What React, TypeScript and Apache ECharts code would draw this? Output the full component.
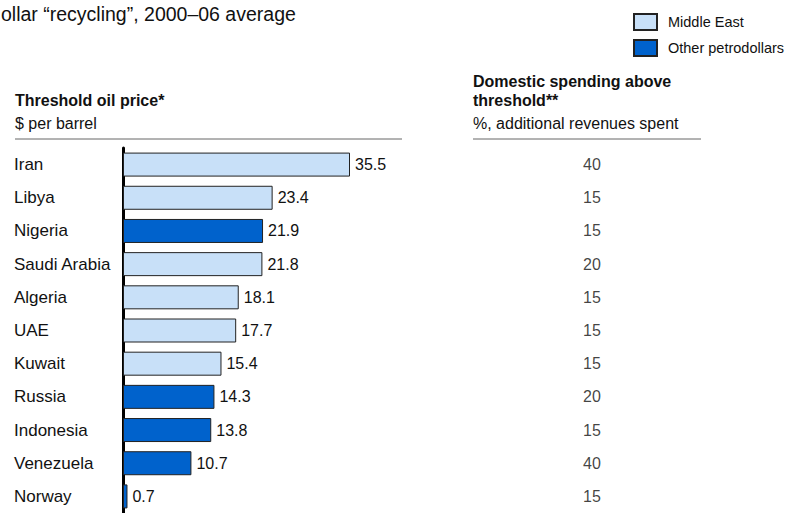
import React, { useEffect, useRef } from "react";
import * as echarts from "echarts";

const countries = ["Iran", "Libya", "Nigeria", "Saudi Arabia", "Algeria", "UAE", "Kuwait", "Russia", "Indonesia", "Venezuela", "Norway"];
const thresholdPrice = [35.5, 23.4, 21.9, 21.8, 18.1, 17.7, 15.4, 14.3, 13.8, 10.7, 0.7];
const isMiddleEast = [true, true, false, true, true, true, true, false, false, false, false];
const spendingAbove = [40, 15, 15, 20, 15, 15, 15, 20, 15, 40, 15];
const groups = ["Middle East", "Other petrodollars"];

const LIGHT = "#C8E0F8";
const DARK = "#0062CC";
const FONT = "'Liberation Sans', Arial, sans-serif";

export default function App() {
  const ref = useRef<HTMLDivElement>(null);
  useEffect(() => {
    document.body.style.margin = "0";
    const chart = echarts.init(ref.current!, null, { renderer: "svg" });
    const gridTop = 148;
    const rowH = 34;
    const gridH = rowH * countries.length;
    chart.setOption({
      animation: false,
      textStyle: { fontFamily: FONT },
      grid: [
        { left: 123, top: gridTop, width: 227, height: gridH, containLabel: false },
        { left: 540, top: gridTop, width: 104, height: gridH, containLabel: false },
      ],
      xAxis: [
        { gridIndex: 0, type: "value", min: 0, max: 35.5, show: false },
        { gridIndex: 1, type: "value", min: -1, max: 1, show: false },
      ],
      yAxis: [
        {
          gridIndex: 0,
          type: "category",
          data: countries,
          inverse: true,
          axisLine: { show: true, lineStyle: { color: "#000", width: 3 } },
          axisTick: { show: false },
          axisLabel: { align: "left", margin: 109, color: "#111", fontSize: 17, fontFamily: FONT },
        },
        { gridIndex: 1, type: "category", data: countries, inverse: true, show: false },
      ],
      legend: {
        data: groups,
        orient: "vertical",
        left: 628,
        top: 8,
        itemWidth: 23,
        itemHeight: 16,
        itemGap: 8,
        icon: "rect",
        textStyle: { fontSize: 14.5, color: "#111", fontFamily: FONT, padding: [0, 0, 0, 6] },
      },
      series: [
        {
          name: groups[0],
          type: "bar",
          xAxisIndex: 0,
          yAxisIndex: 0,
          stack: "a",
          barWidth: 24,
          itemStyle: { color: LIGHT, borderColor: "#222", borderWidth: 1 },
          label: { show: true, position: "right", distance: 5, color: "#111", fontSize: 16, fontFamily: FONT },
          data: thresholdPrice.map((v, i) => (isMiddleEast[i] ? v : "-")),
        },
        {
          name: groups[1],
          type: "bar",
          xAxisIndex: 0,
          yAxisIndex: 0,
          stack: "b",
          barWidth: 24,
          barGap: "-100%",
          itemStyle: { color: DARK, borderColor: "#222", borderWidth: 1 },
          label: { show: true, position: "right", distance: 5, color: "#111", fontSize: 16, fontFamily: FONT },
          data: thresholdPrice.map((v, i) => (!isMiddleEast[i] ? v : "-")),
        },
        {
          type: "scatter",
          xAxisIndex: 1,
          yAxisIndex: 1,
          symbolSize: 0,
          silent: true,
          encode: { x: 0, y: 1 },
          label: {
            show: true,
            position: "inside",
            color: "#111",
            fontSize: 16,
            fontFamily: FONT,
            formatter: (p: any) => String(p.value[2]),
          },
          data: spendingAbove.map((v, i) => [0, i, v]),
        },
      ],
      graphic: [
        {
          type: "text",
          left: 1,
          top: 4,
          style: { text: "ollar “recycling”, 2000–06 average", font: `19.5px ${FONT}`, fill: "#111" },
        },
        { type: "text", left: 15, top: 92, style: { text: "Threshold oil price*", font: `bold 16px ${FONT}`, fill: "#111" } },
        { type: "text", left: 15, top: 115, style: { text: "$ per barrel", font: `16px ${FONT}`, fill: "#111" } },
        { type: "line", shape: { x1: 15, y1: 139, x2: 402, y2: 139 }, style: { stroke: "#666", lineWidth: 1 } },
        { type: "text", left: 473, top: 73, style: { text: "Domestic spending above", font: `bold 16px ${FONT}`, fill: "#111" } },
        { type: "text", left: 473, top: 92, style: { text: "threshold**", font: `bold 16px ${FONT}`, fill: "#111" } },
        { type: "text", left: 473, top: 115, style: { text: "%, additional revenues spent", font: `16px ${FONT}`, fill: "#111" } },
        { type: "line", shape: { x1: 473, y1: 139, x2: 701, y2: 139 }, style: { stroke: "#666", lineWidth: 1 } },
      ],
    });
    return () => chart.dispose();
  }, []);
  return <div ref={ref} style={{ width: 786, height: 513 }} />;
}
